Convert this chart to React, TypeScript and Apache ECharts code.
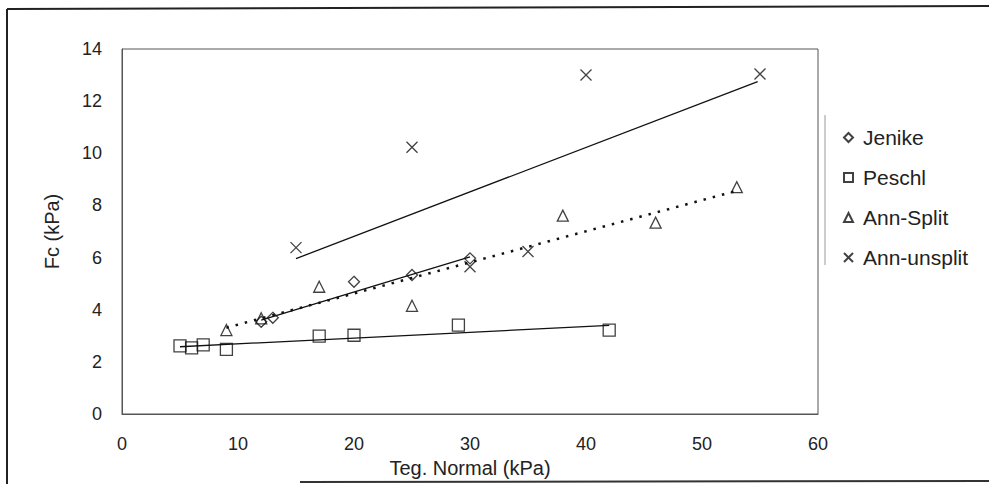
import React, { useEffect, useRef } from "react";
import * as echarts from "echarts";

const FONT = "'Liberation Sans', Arial, Helvetica, sans-serif";

// Scatter data (Teg. Normal kPa, Fc kPa)
const jenikeX = [12, 13, 20, 25, 30];
const jenikeY = [3.54, 3.69, 5.07, 5.33, 5.97];

const peschlX = [5, 6, 7, 9, 17, 20, 29, 42];
const peschlY = [2.61, 2.54, 2.65, 2.48, 2.99, 3.02, 3.41, 3.22];

const annSplitX = [9, 12, 17, 25, 38, 46, 53];
const annSplitY = [3.22, 3.67, 4.88, 4.15, 7.61, 7.34, 8.7];

const annUnsplitX = [15, 25, 30, 35, 40, 55];
const annUnsplitY = [6.38, 10.23, 5.65, 6.23, 13.0, 13.04];

// Trendline end points
const jenikeTrend = [[12, 3.6], [30, 6.03]];
const peschlTrend = [[5, 2.58], [42, 3.4]];
const annSplitTrend = [[9, 3.31], [53, 8.56]];
const annUnsplitTrend = [[15, 5.96], [54.8, 12.75]];

const seriesNames = ["Jenike", "Peschl", "Ann-Split", "Ann-unsplit"];
const xTicks = { min: 0, max: 60, interval: 10 };
const yTicks = { min: 0, max: 14, interval: 2 };

const CROSS = "path://M0,0L10,10M10,0L0,10";

const zip = (xs: number[], ys: number[]) => xs.map((x, i) => [x, ys[i]]);

export default function App() {
  const ref = useRef<HTMLDivElement>(null);
  useEffect(() => {
    if (!ref.current) return;
    const chart = echarts.init(ref.current, undefined, { renderer: "svg" });
    const markerStyle = {
      color: "rgba(255,255,255,0)",
      borderColor: "#111",
      borderWidth: 1.3,
    };
    const trendLine = (data: number[][], type: any, width: number) => ({
      type: "line",
      data,
      symbol: "none",
      silent: true,
      lineStyle: { color: "#111", width, type },
      z: 1,
    });
    chart.setOption({
      animation: false,
      backgroundColor: "#fff",
      textStyle: { fontFamily: FONT },
      grid: {
        left: 122,
        right: 171,
        top: 49,
        bottom: 70,
        show: true,
        borderColor: "#555",
        borderWidth: 1,
        backgroundColor: "transparent",
      },
      legend: {
        data: seriesNames,
        orient: "vertical",
        left: 838,
        top: 122,
        itemWidth: 9,
        itemHeight: 9,
        itemGap: 19,
        textStyle: { fontSize: 21, color: "#222", fontFamily: FONT, padding: [0, 0, 0, 5] },
      },
      xAxis: {
        type: "value",
        min: xTicks.min,
        max: xTicks.max,
        interval: xTicks.interval,
        name: "Teg. Normal (kPa)",
        nameLocation: "middle",
        nameGap: 29,
        nameTextStyle: { fontSize: 20, color: "#222", fontFamily: FONT },
        axisLine: { show: true, lineStyle: { color: "#555", width: 1 } },
        axisTick: { show: false },
        splitLine: { show: false },
        axisLabel: { fontSize: 18, color: "#222", margin: 21, fontFamily: FONT },
      },
      yAxis: {
        type: "value",
        min: yTicks.min,
        max: yTicks.max,
        interval: yTicks.interval,
        name: "Fc (kPa)",
        nameLocation: "middle",
        nameRotate: 90,
        nameGap: 60,
        nameTextStyle: { fontSize: 20, color: "#222", fontFamily: FONT },
        axisLine: { show: true, lineStyle: { color: "#555", width: 1 } },
        axisTick: { show: false },
        splitLine: { show: false },
        axisLabel: { fontSize: 18, color: "#222", margin: 20, fontFamily: FONT },
      },
      graphic: [
        { type: "line", shape: { x1: 7, y1: 9, x2: 7, y2: 484 }, style: { stroke: "#222", lineWidth: 2 } },
        { type: "line", shape: { x1: 7, y1: 9, x2: 989, y2: 6 }, style: { stroke: "#222", lineWidth: 2 } },
        { type: "line", shape: { x1: 300, y1: 482, x2: 989, y2: 481 }, style: { stroke: "#333", lineWidth: 2 } },
        { type: "line", shape: { x1: 825, y1: 115, x2: 825, y2: 265 }, style: { stroke: "#999", lineWidth: 1 } },
      ],
      series: [
        {
          name: "Jenike",
          type: "scatter",
          data: zip(jenikeX, jenikeY),
          symbol: "diamond",
          symbolSize: 11,
          itemStyle: markerStyle,
          z: 3,
        },
        {
          name: "Peschl",
          type: "scatter",
          data: zip(peschlX, peschlY),
          symbol: "rect",
          symbolSize: 12,
          itemStyle: markerStyle,
          z: 3,
        },
        {
          name: "Ann-Split",
          type: "scatter",
          data: zip(annSplitX, annSplitY),
          symbol: "triangle",
          symbolSize: 11,
          itemStyle: markerStyle,
          z: 3,
        },
        {
          name: "Ann-unsplit",
          type: "scatter",
          data: zip(annUnsplitX, annUnsplitY),
          symbol: CROSS,
          symbolSize: 11,
          itemStyle: markerStyle,
          z: 3,
        },
        trendLine(jenikeTrend, "solid", 1.3),
        trendLine(peschlTrend, "solid", 1.3),
        trendLine(annSplitTrend, [2.5, 7], 2.5),
        trendLine(annUnsplitTrend, "solid", 1.3),
      ],
    });
    return () => chart.dispose();
  }, []);
  return (
    <div
      ref={ref}
      style={{ position: "absolute", left: 0, top: 0, width: 989, height: 484, background: "#fff" }}
    />
  );
}
